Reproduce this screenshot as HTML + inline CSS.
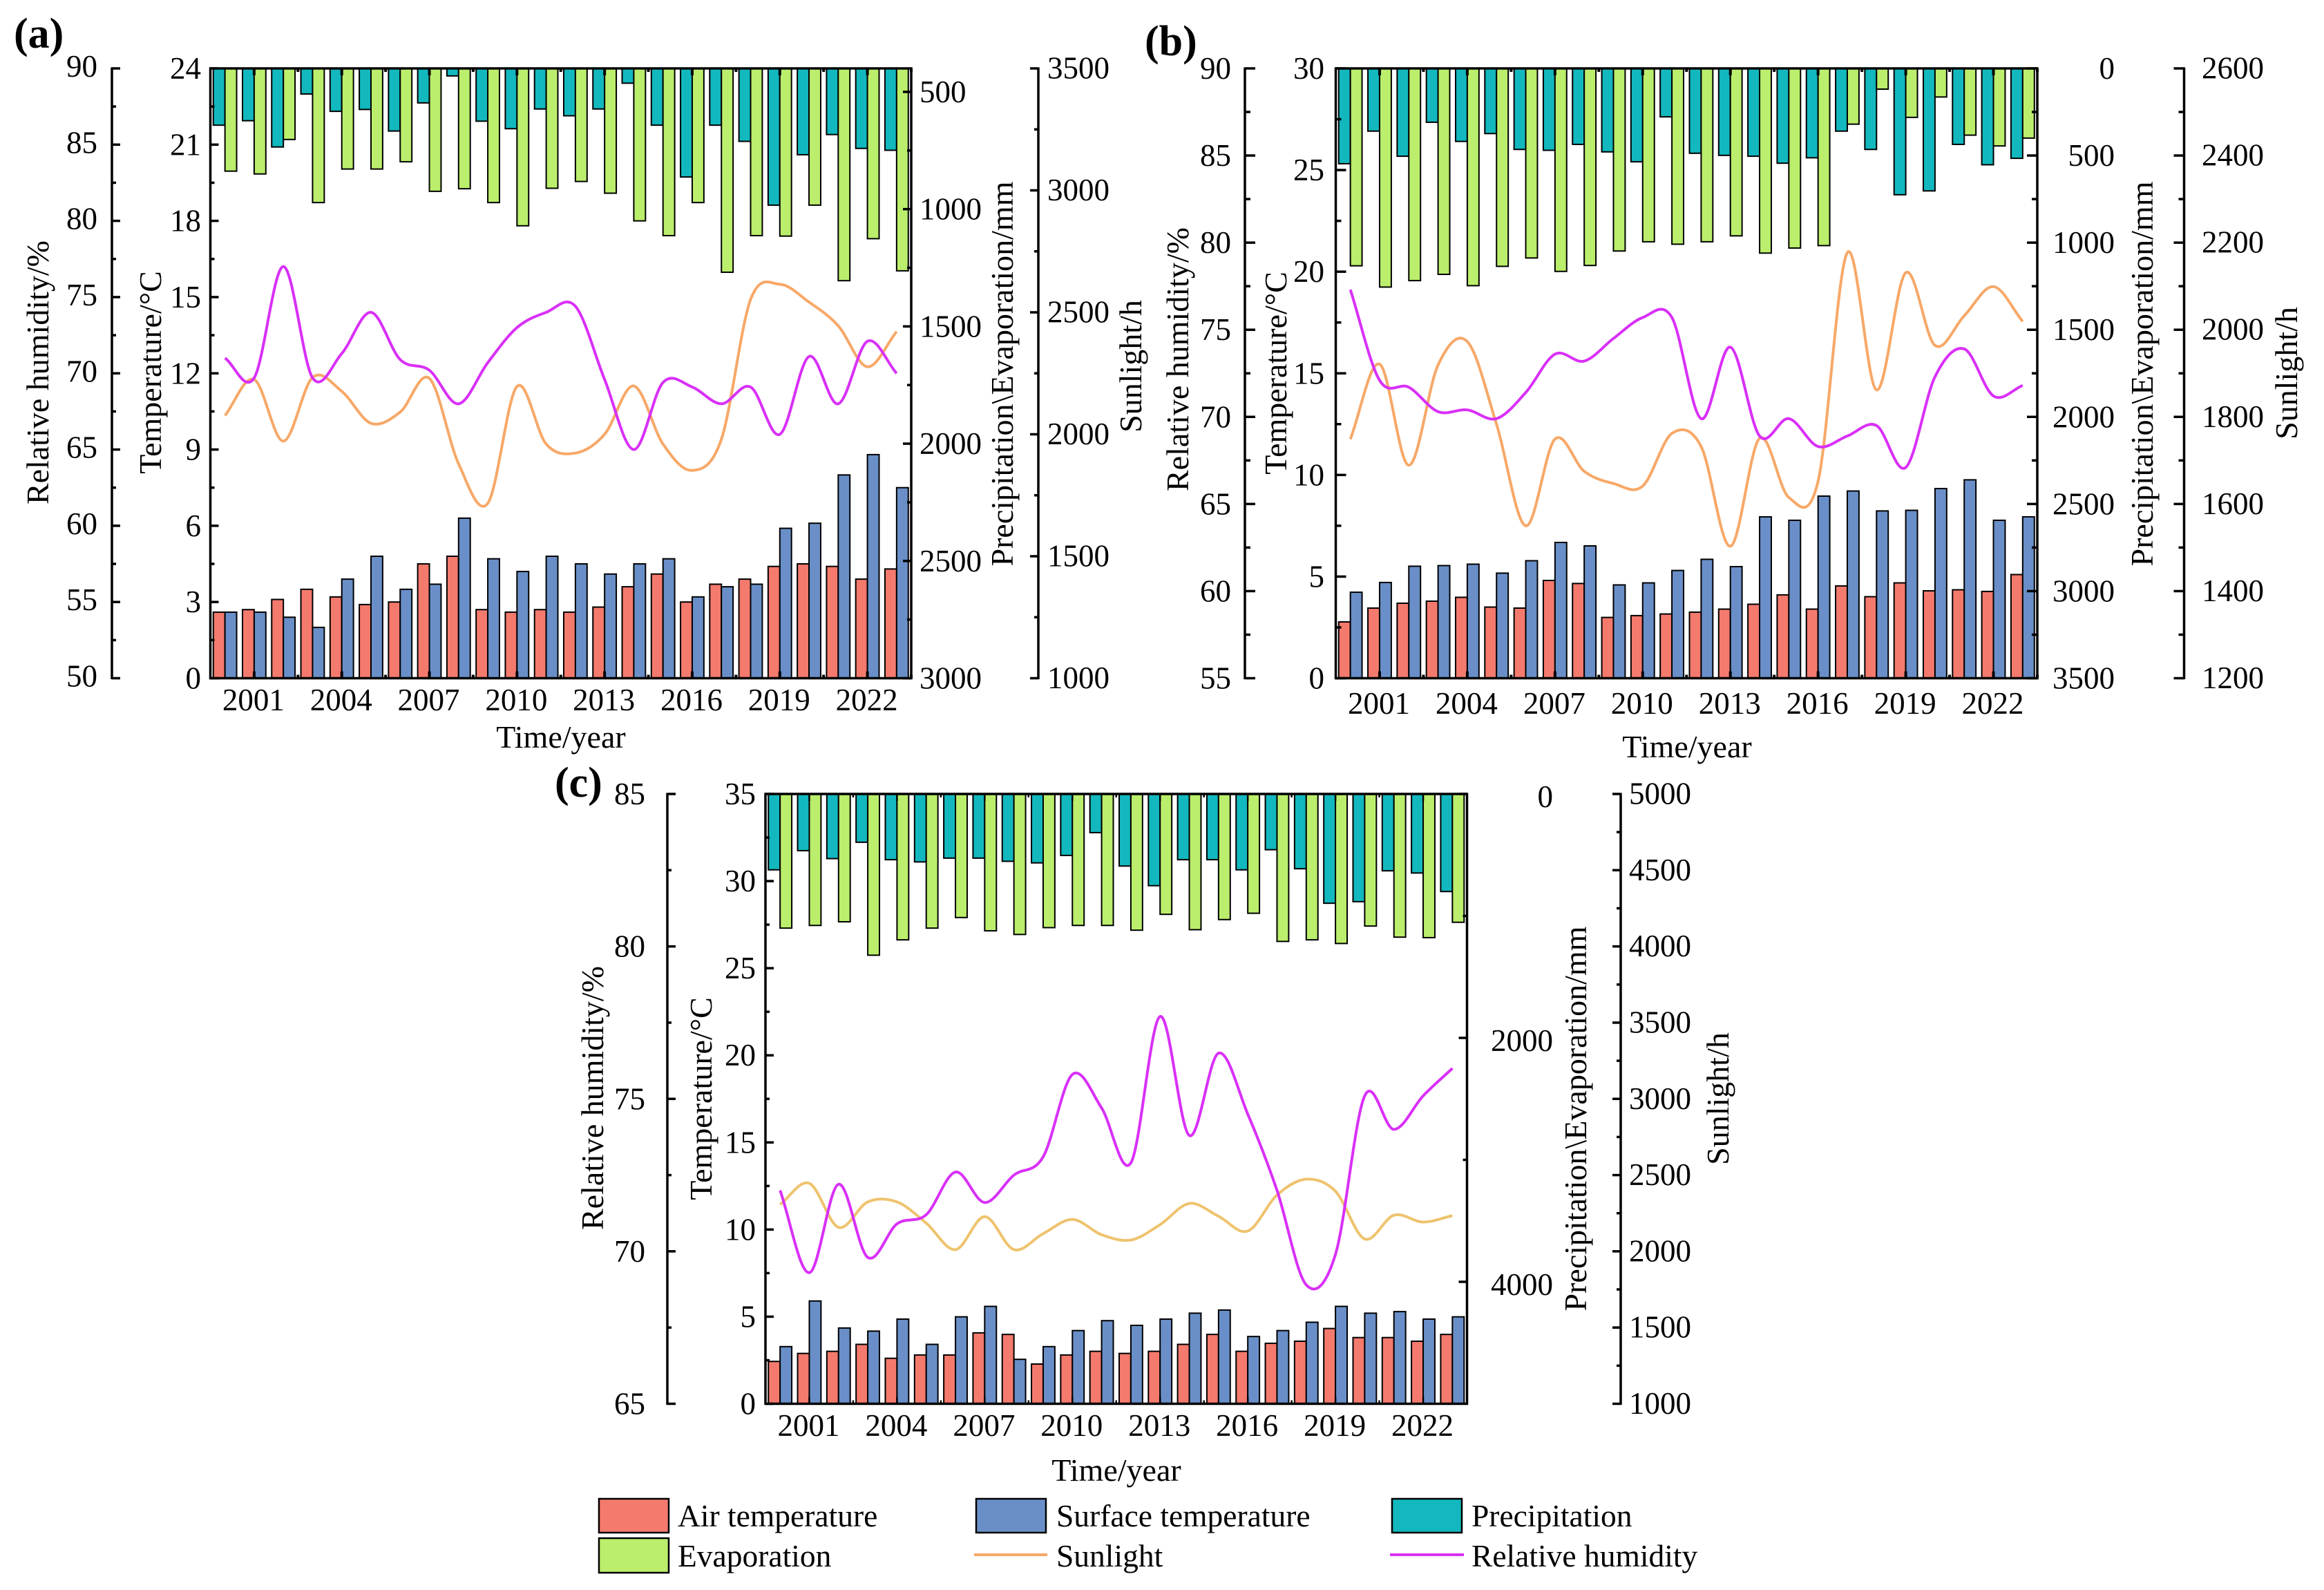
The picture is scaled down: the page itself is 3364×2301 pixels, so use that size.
<!DOCTYPE html>
<html lang="en">
<head>
<meta charset="utf-8">
<title>Climate variables 2000-2023, panels a, b and c</title>
<style>
html,body{margin:0;padding:0;background:#fff;}
svg{display:block;}
text{font-family:"Liberation Serif",serif;fill:#000;}
.tick{font-size:45px;}
.title{font-size:46px;text-anchor:middle;}
.panel{font-size:62px;font-weight:bold;}
.leg{font-size:45.5px;}
</style>
</head>
<body>
<svg id="chart" xmlns="http://www.w3.org/2000/svg" width="3364" height="2301" viewBox="0 0 3364 2301">
  <rect x="0" y="0" width="3364" height="2301" fill="#fff"/>
  <g id="panel-a"></g>
  <g id="panel-b"></g>
  <g id="panel-c"></g>

  <text class="panel" x="20" y="69">(a)</text>
  <text class="title" transform="translate(70,539) rotate(-90)">Relative humidity/%</text>
  <text class="title" transform="translate(233,539) rotate(-90)">Temperature/°C</text>
  <text class="title" transform="translate(1466,541) rotate(-90)">Precipitation\Evaporation/mm</text>
  <text class="title" transform="translate(1652,530) rotate(-90)">Sunlight/h</text>
  <text class="title" x="812" y="1082">Time/year</text>

  <text class="panel" x="1657" y="80">(b)</text>
  <text class="title" transform="translate(1720,520) rotate(-90)">Relative humidity/%</text>
  <text class="title" transform="translate(1862,540) rotate(-90)">Temperature/°C</text>
  <text class="title" transform="translate(3116,541) rotate(-90)">Precipitation\Evaporation/mm</text>
  <text class="title" transform="translate(3325,540) rotate(-90)">Sunlight/h</text>
  <text class="title" x="2442" y="1096">Time/year</text>

  <text class="panel" x="803" y="1153">(c)</text>
  <text class="title" transform="translate(873,1589) rotate(-90)">Relative humidity/%</text>
  <text class="title" transform="translate(1030,1590) rotate(-90)">Temperature/°C</text>
  <text class="title" transform="translate(2296,1619) rotate(-90)">Precipitation\Evaporation/mm</text>
  <text class="title" transform="translate(2502,1590) rotate(-90)">Sunlight/h</text>
  <text class="title" x="1616" y="2143">Time/year</text>

  <g>
    <g>
      <rect x="867" y="2169" width="101" height="49" fill="#F47A6E" stroke="#000" stroke-width="2.5"/>
      <text class="leg" x="981" y="2209">Air temperature</text>
    </g>
    <g>
      <rect x="1413" y="2169" width="101" height="49" fill="#6A8FC8" stroke="#000" stroke-width="2.5"/>
      <text class="leg" x="1529" y="2209">Surface temperature</text>
    </g>
    <g>
      <rect x="2015" y="2169" width="101" height="49" fill="#12B8BE" stroke="#000" stroke-width="2.5"/>
      <text class="leg" x="2130" y="2209">Precipitation</text>
    </g>
    <g>
      <rect x="867" y="2226" width="101" height="50" fill="#BBEE6C" stroke="#000" stroke-width="2.5"/>
      <text class="leg" x="981" y="2267">Evaporation</text>
    </g>
    <g>
      <line x1="1410" y1="2250" x2="1516" y2="2250" stroke="#F7A868" stroke-width="4"/>
      <text class="leg" x="1529" y="2267">Sunlight</text>
    </g>
    <g>
      <line x1="2012" y1="2250" x2="2119" y2="2250" stroke="#D930F7" stroke-width="4"/>
      <text class="leg" x="2130" y="2267">Relative humidity</text>
    </g>
  </g>
</svg>
<script>
const years = [2000,2001,2002,2003,2004,2005,2006,2007,2008,2009,2010,2011,2012,2013,2014,2015,2016,2017,2018,2019,2020,2021,2022,2023];
const yearTicks = [2001,2004,2007,2010,2013,2016,2019,2022];

const airA = [2.6,2.7,3.1,3.5,3.2,2.9,3.0,4.5,4.8,2.7,2.6,2.7,2.6,2.8,3.6,4.1,3.0,3.7,3.9,4.4,4.5,4.4,3.9,4.3];
const surfaceA = [2.6,2.6,2.4,2.0,3.9,4.8,3.5,3.7,6.3,4.7,4.2,4.8,4.5,4.1,4.5,4.7,3.2,3.6,3.7,5.9,6.1,8.0,8.8,7.5];
const precipA = [642,623,735,509,583,575,667,547,432,625,657,573,602,573,463,642,863,642,711,983,768,682,741,749];
const evapA = [838,850,703,972,829,829,798,924,913,972,1071,911,882,932,1050,1113,972,1269,1113,1115,983,1305,1126,1263];
const sunA = [2077,2225,1972,2233,2176,2045,2091,2229,1879,1717,2196,1960,1923,2000,2198,1960,1852,1980,2553,2615,2542,2445,2277,2421];
const rhA = [71.0,69.7,77.0,69.7,71.3,74.0,70.9,70.2,68.0,70.7,73.0,74.0,74.4,69.6,65.0,69.4,69.1,68.0,69.1,66.0,71.1,68.0,72.1,70.0];
const rhTicksA = [50,55,60,65,70,75,80,85,90];
const tempTicksA = [0,3,6,9,12,15,18,21,24];
const precipTicksA = [500,1000,1500,2000,2500,3000];
const sunTicksA = [1000,1500,2000,2500,3000,3500];

const airB = [2.77,3.45,3.69,3.79,3.98,3.50,3.45,4.81,4.66,2.99,3.08,3.16,3.25,3.40,3.64,4.10,3.40,4.54,4.01,4.69,4.30,4.35,4.27,5.10];
const surfaceB = [4.23,4.71,5.51,5.54,5.61,5.17,5.78,6.68,6.51,4.59,4.69,5.30,5.85,5.49,7.94,7.77,8.96,9.21,8.23,8.26,9.33,9.76,7.77,7.94];
const precipB = [547,360,504,309,419,374,465,470,436,479,536,278,487,499,504,544,513,360,465,725,703,436,553,516];
const evapB = [1133,1255,1218,1182,1247,1136,1088,1165,1131,1048,995,1009,995,961,1060,1031,1017,320,119,281,164,383,445,400];
const sunB = [1749,1921,1689,1919,1973,1783,1550,1749,1675,1647,1641,1762,1732,1503,1751,1615,1652,2177,1862,2131,1964,2032,2099,2019];
const rhB = [77.3,72.1,71.7,70.3,70.4,69.9,71.4,73.6,73.2,74.5,75.7,75.7,69.9,74.0,68.9,69.9,68.3,68.9,69.5,67.1,72.3,73.9,71.2,71.8];
const rhTicksB = [55,60,65,70,75,80,85,90];
const tempTicksB = [0,5,10,15,20,25,30];
const precipTicksB = [0,500,1000,1500,2000,2500,3000,3500];
const sunTicksB = [1200,1400,1600,1800,2000,2200,2400,2600];

const airC = [2.43,2.89,3.01,3.41,2.61,2.80,2.80,4.07,3.98,2.28,2.80,3.01,2.89,3.01,3.41,3.98,3.01,3.47,3.59,4.32,3.80,3.80,3.59,3.98];
const surfaceC = [3.28,5.90,4.35,4.17,4.86,3.41,4.99,5.59,2.55,3.28,4.20,4.77,4.50,4.86,5.20,5.38,3.86,4.20,4.68,5.59,5.20,5.29,4.86,4.99];
const precipC = [622,465,530,396,539,557,526,526,552,565,504,317,591,752,539,539,622,457,613,896,883,630,648,800];
const evapC = [1100,1078,1048,1322,1196,1100,1013,1122,1152,1096,1078,1078,1117,987,1113,1030,978,1209,1196,1226,1083,1174,1178,1052];
const sunC = [2307,2446,2157,2324,2324,2185,2011,2227,2011,2116,2209,2109,2074,2175,2314,2230,2133,2369,2473,2394,2081,2237,2192,2234];
const rhC = [72.0,69.3,72.2,69.8,70.9,71.2,72.6,71.6,72.5,73.1,75.8,74.7,72.9,77.7,73.8,76.5,74.5,72.0,68.9,69.9,75.1,74.0,75.1,76.0];
const rhTicksC = [65,70,75,80,85];
const tempTicksC = [0,5,10,15,20,25,30,35];
const precipTicksC = [0,2000,4000];
const sunTicksC = [1000,1500,2000,2500,3000,3500,4000,4500,5000];

const NS = 'http://www.w3.org/2000/svg';
const COLORS = {air:'#F47A6E', surface:'#6A8FC8', precip:'#12B8BE', evap:'#BBEE6C', rh:'#D930F7'};

function make(parent, tag, attrs) {
  const node = document.createElementNS(NS, tag);
  for (const k in attrs) node.setAttribute(k, attrs[k]);
  parent.appendChild(node);
  return node;
}
function linear(d0, d1, r0, r1) {
  return function (v) { return r0 + (v - d0) / (d1 - d0) * (r1 - r0); };
}
function splinePath(xs, ys) {
  const n = xs.length;
  let p = 'M' + xs[0].toFixed(2) + ' ' + ys[0].toFixed(2);
  for (let i = 0; i < n - 1; i++) {
    const h = xs[i+1] - xs[i];
    const i0 = Math.max(i - 1, 0), i2 = Math.min(i + 2, n - 1);
    const d0 = (ys[i+1] - ys[i0]) / (xs[i+1] - xs[i0]);
    const d1 = (ys[i2] - ys[i]) / (xs[i2] - xs[i]);
    p += 'C' + (xs[i] + h/3).toFixed(2) + ' ' + (ys[i] + d0*h/3).toFixed(2) + ' ' +
         (xs[i+1] - h/3).toFixed(2) + ' ' + (ys[i+1] - d1*h/3).toFixed(2) + ' ' +
         xs[i+1].toFixed(2) + ' ' + ys[i+1].toFixed(2);
  }
  return p;
}

function drawYAxis(g, name, o) {
  const axis = make(g, 'line', {x1:o.x, y1:o.top-1.5, x2:o.x, y2:o.bottom+1.5, stroke:'#000', 'stroke-width':3.5});
  
  
  for (let i = 0; i < o.ticks.length; i++) {
    const y = o.scale(o.ticks[i]);
    const t = make(g, 'line', {x1:o.x, y1:y, x2:o.x + o.dir*o.major, y2:y, stroke:'#000', 'stroke-width':3.5});
    
    
    const lab = make(g, 'text', {class:'tick', x:o.labelX, y:y + o.dy, 'text-anchor':o.anchor});
    
    
    lab.textContent = o.ticks[i];
    if (i < o.ticks.length - 1) {
      const ym = o.scale((o.ticks[i] + o.ticks[i+1]) / 2);
      const m = make(g, 'line', {x1:o.x, y1:ym, x2:o.x + o.dir*o.minor, y2:ym, stroke:'#000', 'stroke-width':3.5});
      
      
    }
  }
}

function drawPanel(id, L, air, surface, precip, evap, sun, rh, rhTicks, tempTicks, precipTicks, sunTicks) {
  const g = document.getElementById(id);
  const step = (L.right - L.left) / years.length;
  const bw = step * 0.4;
  const x = linear(years[0] - 0.5, years[years.length-1] + 0.5, L.left, L.right);
  const yT = linear(L.tempDomain[0], L.tempDomain[1], L.bottom, L.top);
  const yP = linear(L.precipDomain[0], L.precipDomain[1], L.top, L.bottom);
  const yS = linear(L.sunDomain[0], L.sunDomain[1], L.bottom, L.top);
  const yH = linear(L.rhDomain[0], L.rhDomain[1], L.bottom, L.top);

  years.forEach(function (yr, i) {
    const cx = x(yr);
    const r1 = make(g, 'rect', {x:cx-bw, y:L.top, width:bw, height:yP(precip[i])-L.top, fill:COLORS.precip, stroke:'#000', 'stroke-width':2});
    
    
    const r2 = make(g, 'rect', {x:cx, y:L.top, width:bw, height:yP(evap[i])-L.top, fill:COLORS.evap, stroke:'#000', 'stroke-width':2});
    
    
    const r3 = make(g, 'rect', {x:cx-bw, y:yT(air[i]), width:bw, height:L.bottom-yT(air[i]), fill:COLORS.air, stroke:'#000', 'stroke-width':2});
    
    
    const r4 = make(g, 'rect', {x:cx, y:yT(surface[i]), width:bw, height:L.bottom-yT(surface[i]), fill:COLORS.surface, stroke:'#000', 'stroke-width':2});
    
    
  });

  const topLine = make(g, 'line', {x1:L.left-1.5, y1:L.top, x2:L.right+1.5, y2:L.top, stroke:'#000', 'stroke-width':3.5});
  
  
  const botLine = make(g, 'line', {x1:L.left-1.5, y1:L.bottom, x2:L.right+1.5, y2:L.bottom, stroke:'#000', 'stroke-width':3.5});
  
  

  yearTicks.forEach(function (yr) {
    const tx = x(yr);
    const a = make(g, 'line', {x1:tx, y1:L.bottom, x2:tx, y2:L.bottom-10, stroke:'#000', 'stroke-width':L.xTickW});
    
    
    const b = make(g, 'line', {x1:tx, y1:L.top, x2:tx, y2:L.top+10, stroke:'#000', 'stroke-width':L.xTickW});
    
    
    const m1 = make(g, 'line', {x1:x(yr+1.5), y1:L.bottom, x2:x(yr+1.5), y2:L.bottom-5, stroke:'#000', 'stroke-width':L.xTickW});
    
    
    const m2 = make(g, 'line', {x1:x(yr+1.5), y1:L.top, x2:x(yr+1.5), y2:L.top+5, stroke:'#000', 'stroke-width':L.xTickW});
    
    
    const lab = make(g, 'text', {class:'tick', x:tx-1, y:L.yearBase, 'text-anchor':'middle'});
    
    
    lab.textContent = yr;
  });

  drawYAxis(g, 'humidity-axis', {x:L.rhX, top:L.top, bottom:L.bottom, scale:yH, ticks:rhTicks, dir:1, major:L.major, minor:L.minor, labelX:L.rhLabelX, anchor:'end', dy:L.rhDy});
  drawYAxis(g, 'temperature-axis', {x:L.left, top:L.top, bottom:L.bottom, scale:yT, ticks:tempTicks, dir:1, major:L.major, minor:L.minor, labelX:L.tempLabelX, anchor:'end', dy:15});
  drawYAxis(g, 'precipitation-axis', {x:L.right, top:L.top, bottom:L.bottom, scale:yP, ticks:precipTicks, dir:-1, major:L.major, minor:L.minor, labelX:L.precipLabelX, anchor:L.precipAnchor, dy:L.precipDy});
  drawYAxis(g, 'sunlight-axis', {x:L.sunX, top:L.top, bottom:L.bottom, scale:yS, ticks:sunTicks, dir:-1, major:L.major, minor:L.minor, labelX:L.sunLabelX, anchor:'start', dy:14.5});

  const xs = years.map(function (yr) { return x(yr); });
  const sunLine = make(g, 'path', {d:splinePath(xs, sun.map(yS)), fill:'none', stroke:L.sunColor, 'stroke-width':4, 'stroke-linejoin':'round'});
  
  
  const rhLine = make(g, 'path', {d:splinePath(xs, rh.map(yH)), fill:'none', stroke:COLORS.rh, 'stroke-width':4, 'stroke-linejoin':'round'});
  
  
}

drawPanel('panel-a', {
  left:304.5, right:1319, top:99, bottom:981.5, xTickW:4, major:12, minor:6, yearBase:1028,
  tempDomain:[0,24], precipDomain:[400,3000], sunDomain:[1000,3500], rhDomain:[50,90],
  rhX:162, rhLabelX:141, rhDy:12, tempLabelX:291, precipLabelX:1331, precipAnchor:'start', precipDy:15,
  sunX:1503, sunLabelX:1516, sunColor:'#F7A868'
}, airA, surfaceA, precipA, evapA, sunA, rhA, rhTicksA, tempTicksA, precipTicksA, sunTicksA);

drawPanel('panel-b', {
  left:1933.5, right:2949, top:99, bottom:981.5, xTickW:4, major:15, minor:8, yearBase:1033,
  tempDomain:[0,30], precipDomain:[0,3500], sunDomain:[1200,2600], rhDomain:[55,90],
  rhX:1802, rhLabelX:1782, rhDy:15, tempLabelX:1917, precipLabelX:3061, precipAnchor:'end', precipDy:15,
  sunX:3161.5, sunLabelX:3187, sunColor:'#F7A868'
}, airB, surfaceB, precipB, evapB, sunB, rhB, rhTicksB, tempTicksB, precipTicksB, sunTicksB);

drawPanel('panel-c', {
  left:1108, right:2123.5, top:1149, bottom:2031.5, xTickW:2.5, major:12, minor:6, yearBase:2078,
  tempDomain:[0,35], precipDomain:[0,5000], sunDomain:[1000,5000], rhDomain:[65,85],
  rhX:966, rhLabelX:934, rhDy:15, tempLabelX:1094, precipLabelX:2248, precipAnchor:'end', precipDy:19,
  sunX:2346, sunLabelX:2358, sunColor:'#EEC36E'
}, airC, surfaceC, precipC, evapC, sunC, rhC, rhTicksC, tempTicksC, precipTicksC, sunTicksC);
</script>
</body>
</html>
